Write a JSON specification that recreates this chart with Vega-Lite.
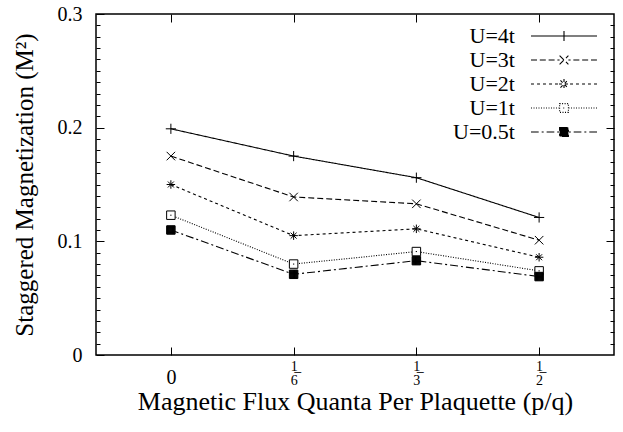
{
  "$schema": "https://vega.github.io/schema/vega-lite/v6.json",
  "width": 518,
  "height": 341,
  "autosize": "none",
  "padding": {"left": 96, "top": 14, "right": 9, "bottom": 77},
  "background": "white",
  "config": {
    "font": "Liberation Serif",
    "view": {"stroke": "black", "strokeWidth": 1.5},
    "axis": {"grid": false, "domain": false, "tickColor": "black", "tickWidth": 1, "labelColor": "black", "titleColor": "black", "titleFontWeight": "normal", "labelFont": "Liberation Serif", "titleFont": "Liberation Serif"},
    "legend": {"labelFont": "Liberation Serif"}
  },
  "data": {"values": [
    {"q": "0", "U": "U=4t", "m": 0.199},
    {"q": "1/6", "U": "U=4t", "m": 0.175},
    {"q": "1/3", "U": "U=4t", "m": 0.156},
    {"q": "1/2", "U": "U=4t", "m": 0.121},
    {"q": "0", "U": "U=3t", "m": 0.175},
    {"q": "1/6", "U": "U=3t", "m": 0.139},
    {"q": "1/3", "U": "U=3t", "m": 0.133},
    {"q": "1/2", "U": "U=3t", "m": 0.101},
    {"q": "0", "U": "U=2t", "m": 0.150},
    {"q": "1/6", "U": "U=2t", "m": 0.105},
    {"q": "1/3", "U": "U=2t", "m": 0.111},
    {"q": "1/2", "U": "U=2t", "m": 0.086},
    {"q": "0", "U": "U=1t", "m": 0.123},
    {"q": "1/6", "U": "U=1t", "m": 0.080},
    {"q": "1/3", "U": "U=1t", "m": 0.091},
    {"q": "1/2", "U": "U=1t", "m": 0.074},
    {"q": "0", "U": "U=0.5t", "m": 0.110},
    {"q": "1/6", "U": "U=0.5t", "m": 0.071},
    {"q": "1/3", "U": "U=0.5t", "m": 0.083},
    {"q": "1/2", "U": "U=0.5t", "m": 0.069}
  ]},
  "resolve": {"axis": {"x": "independent", "y": "independent"}},
  "layer": [
    {
      "mark": {"type": "line", "stroke": "black", "strokeWidth": 1.1},
      "encoding": {
        "x": {
          "field": "q", "type": "ordinal", "sort": ["0", "1/6", "1/3", "1/2"],
          "scale": {"type": "point", "padding": 0.61},
          "axis": {
            "orient": "bottom", "title": "Magnetic Flux Quanta Per Plaquette (p/q)",
            "titleFontSize": 26, "titlePadding": 1,
            "labelAngle": 0, "tickSize": -8,
            "labelExpr": "datum.value == '0' ? '0' : [split(datum.value, '/')[0] + '\u0332', split(datum.value, '/')[1]]",
            "labelFontSize": {"condition": {"test": "datum.value == '0'", "value": 20}, "value": 14},
            "labelPadding": {"condition": {"test": "datum.value == '0'", "value": 30}, "value": 19},
            "labelLineHeight": 14,
            "labelBaseline": "middle"
          }
        },
        "y": {
          "field": "m", "type": "quantitative",
          "scale": {"domain": [0, 0.3], "nice": false, "zero": true},
          "axis": {
            "orient": "left", "values": [0, 0.1, 0.2, 0.3], "format": ".1~f",
            "title": "Staggered Magnetization (M²)", "titleFontSize": 25, "titlePadding": 20,
            "labelFontSize": 20, "tickSize": -8, "labelPadding": 22
          }
        },
        "strokeDash": {
          "field": "U", "type": "nominal", "sort": "descending",
          "scale": {"range": [[1, 0], [6, 3], [3, 3], [1, 1.5], [8, 3, 2, 3]]},
          "legend": {
            "orient": "none", "legendX": 456, "legendY": 10, "title": null,
            "symbolType": "M-3,0H3", "symbolSize": 484, "symbolStrokeColor": "black", "symbolStrokeWidth": 1.1,
            "symbolFillColor": "transparent",
            "labelAlign": "right", "labelOffset": -61, "labelFontSize": 22,
            "labelColor": "black", "rowPadding": 1, "padding": 0, "symbolOffset": 0,
            "encode": {
              "symbols": {
                "update": {
                  "strokeDash": {"value": [1, 0]},
                  "stroke": {"value": "black"},
                  "fill": {"signal": "datum.value == 'U=0.5t' ? 'black' : 'white'"},
                  "shape": {"signal": "datum.value == 'U=4t' ? 'M-3,0H3M0,-0.45V0.45' : datum.value == 'U=3t' ? 'M-3,0H-2.45M-2.2,0H-1.65M-1.4,0H-0.85M-0.6,0H-0.4M0.4,0H0.6M0.85,0H1.4M1.65,0H2.2M2.45,0H3M-0.4,-0.4L0.4,0.4M-0.4,0.4L0.4,-0.4' : datum.value == 'U=2t' ? 'M-3,0H-2.73M-2.45,0H-2.18M-1.91,0H-1.64M-1.36,0H-1.09M-0.82,0H-0.55M0.55,0H0.82M1.09,0H1.36M1.64,0H1.91M2.18,0H2.45M2.73,0H3M-0.45,0H0.45M0,-0.45V0.45M-0.32,-0.32L0.32,0.32M-0.32,0.32L0.32,-0.32' : datum.value == 'U=1t' ? 'M-3,0H-2.91M-2.77,0H-2.68M-2.55,0H-2.46M-2.32,0H-2.23M-2.09,0H-2M-1.86,0H-1.77M-1.64,0H-1.55M-1.41,0H-1.32M-1.18,0H-1.09M-0.96,0H-0.87M-0.73,0H-0.64M-0.5,0H-0.42M0.42,0H0.5M0.64,0H0.73M0.87,0H0.96M1.09,0H1.18M1.32,0H1.41M1.55,0H1.64M1.77,0H1.86M2,0H2.09M2.23,0H2.32M2.46,0H2.55M2.68,0H2.77M2.91,0H3M-0.4,-0.4H0.4V0.4H-0.4ZM-0.07,0H0.07' : 'M-3,0H-2.3M-2.03,0H-1.85M-1.58,0H-0.88M-0.62,0H-0.45M0.45,0H0.62M0.88,0H1.58M1.85,0H2.03M2.3,0H3M-0.4,-0.4H0.4V0.4H-0.4Z'"}
                }
              }
            }
          }
        }
      }
    },
    {
      "mark": {"type": "point", "filled": false, "fill": "white", "stroke": "black", "strokeWidth": 1, "size": 72, "opacity": 1},
      "encoding": {
        "x": {
          "field": "q", "type": "ordinal", "sort": ["0", "1/6", "1/3", "1/2"],
          "axis": {"orient": "top", "title": null, "labels": false, "tickSize": -8}
        },
        "y": {
          "field": "m", "type": "quantitative",
          "axis": {"orient": "left", "title": null, "labels": false, "tickSize": -4,
            "values": [0.01,0.02,0.03,0.04,0.05,0.06,0.07,0.08,0.09,0.11,0.12,0.13,0.14,0.15,0.16,0.17,0.18,0.19,0.21,0.22,0.23,0.24,0.25,0.26,0.27,0.28,0.29]}
        },
        "shape": {
          "field": "U", "type": "nominal",
          "scale": {
            "domain": ["U=4t", "U=3t", "U=2t", "U=1t", "U=0.5t"],
            "range": [
              "M-1.2,0H1.2M0,-1.2V1.2",
              "M-1,-1L1,1M-1,1L1,-1",
              "M-1,0H1M0,-1V1M-0.7,-0.7L0.7,0.7M-0.7,0.7L0.7,-0.7",
              "M-1,-1H1V1H-1ZM-0.15,0H0.15",
              "M-1,-1H1V1H-1ZM-1,-0.8H1M-1,-0.6H1M-1,-0.4H1M-1,-0.2H1M-1,0H1M-1,0.2H1M-1,0.4H1M-1,0.6H1M-1,0.8H1M-0.8,-1V1M-0.6,-1V1M-0.4,-1V1M-0.2,-1V1M0,-1V1M0.2,-1V1M0.4,-1V1M0.6,-1V1M0.8,-1V1"
            ]
          },
          "legend": null
        }
      }
    },
    {
      "mark": {"type": "point", "opacity": 0},
      "encoding": {
        "x": {"field": "q", "type": "ordinal", "sort": ["0", "1/6", "1/3", "1/2"], "axis": null},
        "y": {
          "field": "m", "type": "quantitative",
          "axis": {"orient": "right", "title": null, "labels": false, "tickSize": -4,
            "values": [0.01,0.02,0.03,0.04,0.05,0.06,0.07,0.08,0.09,0.11,0.12,0.13,0.14,0.15,0.16,0.17,0.18,0.19,0.21,0.22,0.23,0.24,0.25,0.26,0.27,0.28,0.29]}
        }
      }
    },
    {
      "mark": {"type": "point", "opacity": 0},
      "encoding": {
        "x": {"field": "q", "type": "ordinal", "sort": ["0", "1/6", "1/3", "1/2"], "axis": null},
        "y": {
          "field": "m", "type": "quantitative",
          "axis": {"orient": "right", "title": null, "labels": false, "tickSize": -8, "values": [0.1, 0.2]}
        }
      }
    }
  ]
}
